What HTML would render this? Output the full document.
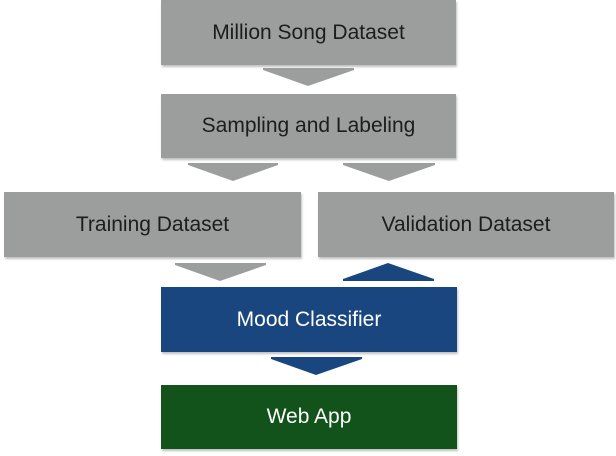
<!DOCTYPE html>
<html><head><meta charset="utf-8"><style>
body{margin:0;width:616px;height:456px;background:#fff;position:relative;overflow:hidden;font-family:"Liberation Sans",sans-serif}
.b{position:absolute;display:flex;align-items:center;justify-content:center;font-size:21px;box-shadow:1px 2px 2px rgba(0,0,0,0.25)}
.g{background:#9c9e9d;color:#1c1c1c}
svg{position:absolute;left:0;top:0}
</style></head><body>
<div class="b g" style="left:161px;top:0;width:295px;height:65px">Million Song Dataset</div>
<div class="b g" style="left:161px;top:94px;width:295px;height:64px">Sampling and Labeling</div>
<div class="b g" style="left:4px;top:192px;width:297px;height:65px">Training Dataset</div>
<div class="b g" style="left:318px;top:192px;width:296px;height:65px">Validation Dataset</div>
<div class="b" style="left:161px;top:287px;width:296px;height:65px;background:#1a467f;color:#fff">Mood Classifier</div>
<div class="b" style="left:161px;top:385px;width:296px;height:64px;background:#11531a;color:#fff">Web App</div>
<svg width="616" height="456">
<polygon points="263,68 354,68 354,70 308,86 263,70" fill="#9c9e9d"/>
<polygon points="188,163 278,163 278,165 233,181 188,165" fill="#9c9e9d"/>
<polygon points="343,163 435,163 435,165 389,181 343,165" fill="#9c9e9d"/>
<polygon points="175,263 266,263 266,265 220,281 175,265" fill="#9c9e9d"/>
<polygon points="343,281 434,281 434,279 388,263 343,279" fill="#1a467f"/>
<polygon points="271,357 362,357 362,359 316,375 271,359" fill="#1a467f"/>
</svg>
</body></html>
